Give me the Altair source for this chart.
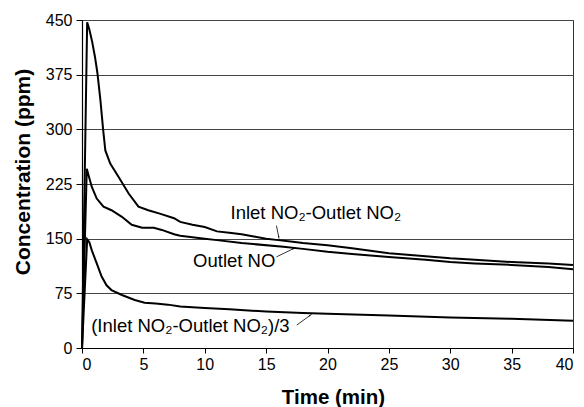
import altair as alt
import pandas as pd

# ---- data ----
t_diff = [0, 0.42, 0.6, 0.83, 1.05, 1.25, 1.5, 1.72, 1.9, 2.3, 2.97, 3.8, 4.6, 5.4, 6.4, 7.5, 8.0,
          9, 10, 11, 12, 13, 14, 15, 16, 17, 18, 20, 22, 25, 28, 30, 32, 35, 38, 40]
v_diff = [0, 447, 437, 420, 400, 378, 340, 300, 271, 253, 235, 212, 194, 189, 184, 178, 173,
          169, 166, 160, 158, 156, 153, 150, 148, 146, 144, 141, 137, 130, 126, 123, 121, 118, 116, 114]

t_no = [0, 0.39, 0.55, 0.8, 1.2, 1.75, 2.4, 3.25, 4.05, 4.9, 5.4, 5.85, 6.5, 7.5, 8.0,
        9, 10, 11, 13, 16.4, 18, 20, 22, 25, 28, 30, 32, 35, 38, 40]
v_no = [0, 246, 236, 221, 205, 194, 189, 180, 169, 165, 165, 165, 162, 156, 154,
        152, 150, 148, 144, 139, 136, 132, 129, 125, 121, 118, 116, 114, 111, 108]

t_third = [0, 0.42, 0.6, 0.8, 1.2, 1.6, 2.0, 2.4, 3.25, 4.3, 5.1, 6.0, 7.0, 8.0,
           10, 12, 15, 18, 20, 25, 30, 35, 40]
v_third = [0, 149, 145, 134, 116, 98, 86, 79.5, 72.7, 65.8, 62, 61, 59.5, 57,
           55, 53, 50, 48, 47, 44.5, 42, 40, 37.5]

series_names = ["Inlet NO₂-Outlet NO₂", "Outlet NO", "(Inlet NO₂-Outlet NO₂)/3"]

x_ticks = [0, 5, 10, 15, 20, 25, 30, 35, 40]
y_ticks = [0, 75, 150, 225, 300, 375, 450]

rows = []
for name, ts, vs in zip(series_names, [t_diff, t_no, t_third], [v_diff, v_no, v_third]):
    for i, (t, v) in enumerate(zip(ts, vs)):
        rows.append({"series": name, "time": t, "conc": v, "order": i})
df = pd.DataFrame(rows)

# annotations: label anchor and leader start/end (data coordinates)
label_t = [12.1, 15.75, 0.75]
label_y = [177.5, 111.5, 22.4]
label_align = ["left", "right", "left"]
lead_t1 = [15.84, 15.84, 17.5]
lead_y1 = [168, 125, 31.5]
lead_t2 = [16.03, 17.25, 18.6]
lead_y2 = [152, 136.5, 45]
head_angle = [169, 64, 53]

ann = pd.DataFrame({
    "text": series_names, "lt": label_t, "ly": label_y, "align": label_align,
    "t1": lead_t1, "y1": lead_y1, "t2": lead_t2, "y2": lead_y2, "ang": head_angle,
})

FONT = "Liberation Sans"
xs = alt.Scale(domain=[0, 40], nice=False)
ys = alt.Scale(domain=[0, 450], nice=False)

lines = alt.Chart(df).mark_line(color="black", strokeWidth=2).encode(
    x=alt.X("time:Q", scale=xs, title="Time (min)",
            axis=alt.Axis(values=x_ticks, grid=False, tickSize=5, labelPadding=3,
                          titleX=251, titleY=49, titleBaseline="middle")),
    y=alt.Y("conc:Q", scale=ys, title="Concentration (ppm)",
            axis=alt.Axis(values=y_ticks, grid=True, tickSize=6, labelPadding=4,
                          titleX=-59, titleY=151.5, titleBaseline="middle",
                          titleFontSize=21)),
    detail="series:N",
    order="order:Q",
)

texts = []
for al in ["left", "right"]:
    texts.append(
        alt.Chart(ann[ann["align"] == al]).mark_text(
            align=al, baseline="alphabetic", font=FONT, fontSize=18.5, color="black"
        ).encode(x=alt.X("lt:Q", scale=xs), y=alt.Y("ly:Q", scale=ys), text="text:N")
    )

leaders = alt.Chart(ann).mark_rule(color="black", strokeWidth=0.8).encode(
    x=alt.X("t1:Q", scale=xs), y=alt.Y("y1:Q", scale=ys),
    x2="t2:Q", y2="y2:Q",
)

heads = alt.Chart(ann).mark_point(shape="wedge", filled=True, color="black", size=25, opacity=1).encode(
    x=alt.X("t2:Q", scale=xs), y=alt.Y("y2:Q", scale=ys),
    angle=alt.Angle("ang:Q", scale=None),
)

chart = alt.layer(lines, leaders, heads, *texts).properties(
    width=491, height=328,
    autosize=alt.AutoSizeParams(type="none"),
    padding={"left": 82, "top": 20, "right": 11, "bottom": 59},
).configure_view(
    stroke="#333", strokeWidth=1
).configure_axis(
    domainColor="black", domainWidth=1.2,
    tickColor="black",
    labelFont=FONT, labelFontSize=16, labelColor="black",
    titleFont=FONT, titleFontSize=20.5, titleFontWeight="bold", titleColor="black",
    gridColor="#444", gridWidth=1, gridOpacity=1,
)

chart.save("out.html", embed_options={"renderer": "svg", "actions": False})
